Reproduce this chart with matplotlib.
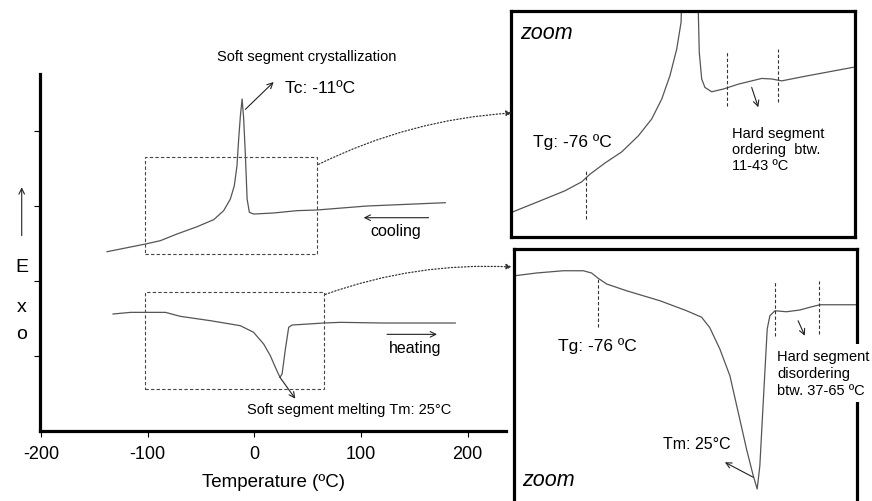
import matplotlib.pyplot as plt
from matplotlib.patches import Rectangle, ConnectionPatch

plt.rcParams["font.family"] = ["Liberation Sans", "DejaVu Sans"]
plt.rcParams["axes.unicode_minus"] = False

# main DSC curves (temperature in ºC, heat flow in arbitrary units, exo up)
cool_t = [-138.1, -102.2, -88.1, -72.5, -53.7, -38.1, -28.8, -22.5, -18.8, -16.3, -14.7, -13.1, -11.5,
          -10.0, -8.4, -6.8, -4.7, -0.6, 18.1, 40.0, 58.8, 105.6, 179.0]
cool_hf = [2.391, 2.493, 2.538, 2.627, 2.724, 2.818, 2.938, 3.093, 3.271, 3.538, 3.893, 4.204, 4.427,
           4.160, 3.671, 3.093, 2.916, 2.893, 2.907, 2.938, 2.947, 3.000, 3.044]

heat_t = [-132.5, -116.2, -83.4, -69.4, -41.2, -13.1, -0.7, 8.7, 15.0, 19.7, 24.0, 26.0, 29.1, 32.2,
          35.3, 65.0, 80.6, 121.0, 188.4]
heat_hf = [1.560, 1.582, 1.582, 1.529, 1.471, 1.404, 1.316, 1.160, 1.004, 0.849, 0.716, 0.760, 1.093,
           1.383, 1.413, 1.440, 1.449, 1.440, 1.440]

# zoomed regions (Tmin, Tmax, hf_min, hf_max)
box_cool = (-102.2, 58.8, 2.356, 3.653)
box_heat = (-102.2, 65.0, 0.556, 1.853)

# zoom of the cooling curve
zc_t = [-121.3, -105.8, -89.2, -78.8, -73.7, -64.4, -54.0, -43.7, -35.4, -29.2, -24.1, -19.9, -17.2,
        -11.5, -5.9, -4.4, -2.4, 1.8, 9.0, 18.3, 32.8, 39.0, 45.2, 59.7, 89.6]
zc_hf = [2.449, 2.486, 2.526, 2.559, 2.587, 2.628, 2.669, 2.728, 2.790, 2.863, 2.949, 3.047, 3.145,
         4.420, 3.035, 2.937, 2.906, 2.890, 2.900, 2.918, 2.939, 2.937, 2.930, 2.947, 2.980]
zc_marks = [(-76, 2.422, 2.606), (11, 2.837, 3.040), (43, 2.852, 3.047)]

# zoom of the heating curve
zh_t = [-129.0, -115.2, -98.2, -85.4, -80.1, -75.9, -70.5, -57.8, -36.5, -19.5, -9.9, -4.7, 1.7, 8.1,
        13.4, 18.7, 23.0, 25.5, 27.2, 28.9, 30.4, 31.9, 33.6, 36.8, 44.2, 52.7, 59.1, 65.5, 88.9]
zh_hf = [1.560, 1.571, 1.580, 1.580, 1.571, 1.550, 1.527, 1.500, 1.460, 1.420, 1.394, 1.352, 1.267, 1.160,
         1.014, 0.867, 0.760, 0.707, 0.800, 1.000, 1.174, 1.347, 1.400, 1.420, 1.416, 1.423, 1.434, 1.444, 1.444]
zh_marks = [(-76, 1.355, 1.547), (37, 1.319, 1.535), (65, 1.327, 1.539)]

x_ticks = [-200, -100, 0, 100, 200]
curve_color = "#555555"
arrow = dict(arrowstyle="->", color="#222222", lw=0.8, shrinkA=0, shrinkB=0)

fig = plt.figure(figsize=(8.72, 5.02), dpi=100)

# ---- main plot
ax = fig.add_axes([0.0459, 0.1394, 0.5344, 0.7112])
ax.plot(cool_t, cool_hf, color=curve_color, lw=0.9)
ax.plot(heat_t, heat_hf, color=curve_color, lw=0.9)
ax.set_xlim(-201, 236)
ax.set_ylim(0, 4.76)
ax.set_xticks(x_ticks)
ax.set_yticks([1, 2, 3, 4])
ax.set_yticklabels([])
ax.tick_params(axis="x", direction="out", length=4, width=0.8, labelsize=13, pad=6)
ax.tick_params(axis="y", direction="out", length=4, width=0.8)
for side in ["top", "right"]:
    ax.spines[side].set_visible(False)
for side in ["left", "bottom"]:
    ax.spines[side].set_linewidth(2.3)
ax.set_xlabel("Temperature (ºC)", fontsize=13.5, labelpad=8)

for b in [box_cool, box_heat]:
    ax.add_patch(Rectangle((b[0], b[2]), b[1] - b[0], b[3] - b[2], fill=False,
                           ls=(0, (3, 2)), lw=0.8, edgecolor="#444444"))

ax.text(49.4, 5.0, "Soft segment crystallization", fontsize=10.5, ha="center", va="center", clip_on=False)
ax.text(29, 4.578, "Tc: -11ºC", fontsize=12.5, va="center")
ax.annotate("", xy=(18.1, 4.653), xytext=(-8.4, 4.289), arrowprops=arrow)
ax.text(108.8, 2.667, "cooling", fontsize=11.5, va="center")
ax.annotate("", xy=(102.5, 2.844), xytext=(163.4, 2.844), arrowprops=arrow)
ax.text(125.9, 1.111, "heating", fontsize=11.5, va="center")
ax.annotate("", xy=(171.3, 1.289), xytext=(124.4, 1.289), arrowprops=arrow)
ax.text(-6.9, 0.289, "Soft segment melting Tm: 25°C", fontsize=10.5, va="center")
ax.annotate("", xy=(38.4, 0.431), xytext=(24.0, 0.716), arrowprops=arrow)

# Exo label with arrow
ax.annotate("", xy=(0.0249, 0.6249), xytext=(0.0249, 0.5285), xycoords="figure fraction",
            textcoords="figure fraction", arrowprops=arrow)
for letter, fy in zip(["E", "x", "o"], [0.468, 0.388, 0.333]):
    fig.text(0.0252, fy, letter, fontsize=14, ha="center", va="center")

# ---- zoom of cooling
ax_c = fig.add_axes([0.586, 0.5259, 0.3945, 0.4502])
ax_c.plot(zc_t, zc_hf, color=curve_color, lw=0.9)
ax_c.set_xlim(-122.7, 90.7)
ax_c.set_ylim(2.356, 3.187)
for t, y0, y1 in zc_marks:
    ax_c.plot([t, t], [y0, y1], color="#333333", lw=0.8, ls=(0, (3, 2)))
ax_c.annotate("", xy=(30.7, 2.833), xytext=(26.6, 2.906), arrowprops=arrow)
ax_c.text(0.026, 0.907, "zoom", style="italic", fontsize=15.5, transform=ax_c.transAxes, va="center")
ax_c.text(0.064, 0.425, "Tg: -76 ºC", fontsize=12.5, transform=ax_c.transAxes, va="center")
ax_c.text(0.642, 0.491, "Hard segment\nordering  btw.\n11-43 ºC", fontsize=10.5, linespacing=1.2,
          transform=ax_c.transAxes, va="top")

# ---- zoom of heating
ax_h = fig.add_axes([0.5894, -0.012, 0.3933, 0.514])
ax_h.plot(zh_t, zh_hf, color=curve_color, lw=0.9)
ax_h.set_xlim(-129.6, 89.1)
ax_h.set_ylim(0.635, 1.667)
for t, y0, y1 in zh_marks:
    ax_h.plot([t, t], [y0, y1], color="#333333", lw=0.8, ls=(0, (3, 2)))
ax_h.annotate("", xy=(55.9, 1.32), xytext=(51.6, 1.38), arrowprops=arrow)
ax_h.annotate("", xy=(4.9, 0.814), xytext=(23.0, 0.754), arrowprops=arrow)
ax_h.text(0.128, 0.628, "Tg: -76 ºC", fontsize=12.5, transform=ax_h.transAxes, va="center")
ax_h.text(0.434, 0.248, "Tm: 25°C", fontsize=11.5, transform=ax_h.transAxes, va="center")
ax_h.text(0.023, 0.105, "zoom", style="italic", fontsize=15.5, transform=ax_h.transAxes, va="center")
ax_h.text(0.767, 0.612, "Hard segment\ndisordering\nbtw. 37-65 ºC", fontsize=10.5, linespacing=1.25,
          transform=ax_h.transAxes, va="top", clip_on=False,
          bbox=dict(facecolor="white", edgecolor="none", pad=4))

for a in [ax_c, ax_h]:
    a.set_xticks([])
    a.set_yticks([])
    for s in a.spines.values():
        s.set_linewidth(2.3)

# dotted connectors from the boxes to the zoom panels
for start, target, a in [((60.3, 3.556), (-122.2, 2.812), ax_c), ((66.6, 1.822), (-130.9, 1.595), ax_h)]:
    con = ConnectionPatch(xyA=start, coordsA=ax.transData, xyB=target, coordsB=a.transData,
                          arrowstyle="-|>", ls=":", lw=0.9, color="#333333",
                          connectionstyle="arc3,rad=-0.1", mutation_scale=8)
    fig.add_artist(con)

fig.savefig("out.png", dpi=100)
